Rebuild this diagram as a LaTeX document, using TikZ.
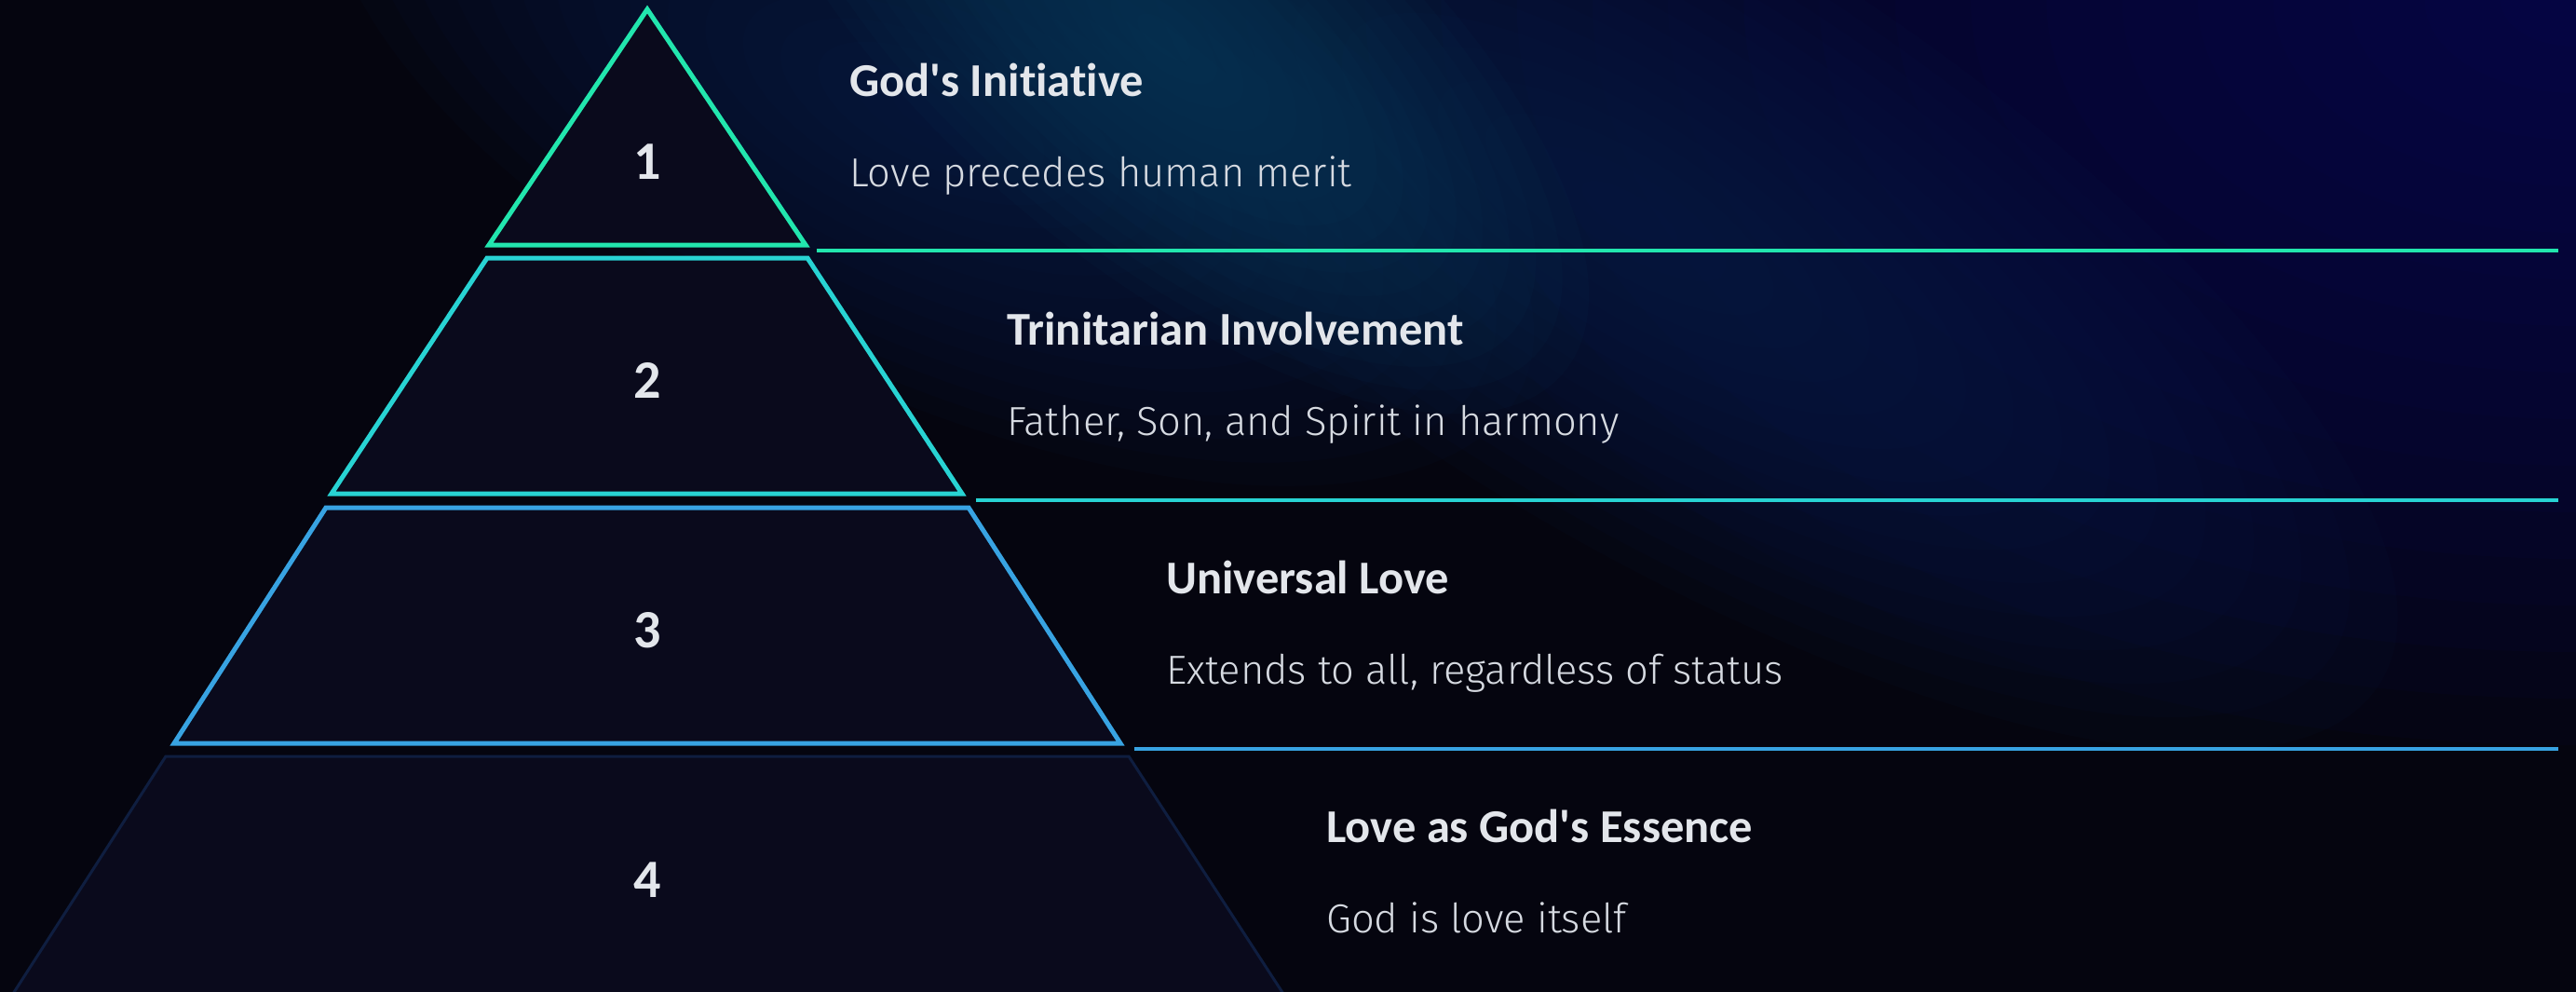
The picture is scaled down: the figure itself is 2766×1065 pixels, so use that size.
\documentclass[tikz,border=0pt]{standalone}
\usepackage{fontspec}
\usepackage{tikz}
\newfontfamily\titlefont{Carlito}[Ligatures=NoCommon]
\newfontfamily\descfont{Fira Sans Light}
\definecolor{bgdark}{HTML}{05050F}
\definecolor{glowteal}{HTML}{0C4262}
\definecolor{glownavy}{HTML}{0A2250}
\definecolor{glowindigo}{HTML}{0A0A60}
\definecolor{layerfill}{HTML}{0A0A1C}
\definecolor{mint}{HTML}{22E6AE}
\definecolor{aqua}{HTML}{28D3D3}
\definecolor{sky}{HTML}{38A3E2}
\definecolor{dimblue}{HTML}{0F1E40}
\definecolor{txtmain}{HTML}{E3E6EB}
\definecolor{txtdesc}{HTML}{D6DAE1}

\begin{document}
\begin{tikzpicture}[x=1pt,y=-1pt,
    layer/.style={fill=layerfill,line width=5pt,line join=miter},
    sep/.style={line width=4pt},
    glow/.style={opacity=0.07},
    num/.style={text=txtmain,font=\titlefont\bfseries\fontsize{58}{60}\selectfont,inner sep=0pt,anchor=base},
    title/.style={text=txtmain,font=\titlefont\bfseries\fontsize{50.5}{54}\selectfont,inner sep=0pt,anchor=base west},
    desc/.style={text=txtdesc,font=\descfont\fontsize{43.5}{48}\selectfont,inner sep=0pt,anchor=base west}]
    \useasboundingbox (0,0) rectangle (2766,1065);
    \clip (0,0) rectangle (2766,1065);

    % background and glows
    \fill[bgdark] (0,0) rectangle (2766,1065);
    \foreach \k in {1,...,16}
        \fill[glowindigo,glow] (2766,0) ellipse [x radius={1300/16*\k}, y radius={800/16*\k}];
    \foreach \k in {1,...,16}
        \fill[glownavy,glow,rotate around={-32:(1750,230)}] (1750,230) ellipse [x radius={950/16*\k}, y radius={330/16*\k}];
    \foreach \k in {1,...,16}
        \fill[glownavy,glow,rotate around={-25:(1000,120)}] (1000,120) ellipse [x radius={700/16*\k}, y radius={300/16*\k}];
    \foreach \k in {1,...,16}
        \fill[glowteal,glow,rotate around={-40:(1250,40)}] (1250,40) ellipse [x radius={560/16*\k}, y radius={240/16*\k}];

    % pyramid layers
    \draw[layer,draw=dimblue,line width=3pt] (178,812) -- (1212,812) -- (1380,1070) -- (12,1070) -- cycle;
    \draw[layer,draw=sky] (350,545) -- (1040,545) -- (1203,798) -- (187,798) -- cycle;
    \draw[layer,draw=aqua] (523,277) -- (867,277) -- (1033,530) -- (356,530) -- cycle;
    \draw[layer,draw=mint] (695,10) -- (865,263) -- (525,263) -- cycle;

    % separator lines
    \coordinate (s1a) at (877,269);
    \coordinate (s1b) at (2747,269);
    \coordinate (s2a) at (1048,537);
    \coordinate (s2b) at (2747,537);
    \coordinate (s3a) at (1218,804);
    \coordinate (s3b) at (2747,804);
    \draw[sep,mint] (s1a) -- (s1b);
    \draw[sep,aqua] (s2a) -- (s2b);
    \draw[sep,sky] (s3a) -- (s3b);

    % numbers
    \node[num] (n1) at (695,192) {1};
    \node[num] (n2) at (695,427) {2};
    \node[num] (n3) at (695,695) {3};
    \node[num] (n4) at (695,963) {4};

    % titles and descriptions
    \node[title] (t1) at (912,103) {God's Initiative};
    \node[desc] (d1) at (912,200) {Love precedes human merit};
    \node[title] (t2) at (1081,370) {Trinitarian Involvement};
    \node[desc] (d2) at (1081,467) {Father, Son, and Spirit in harmony};
    \node[title] (t3) at (1252,637) {Universal Love};
    \node[desc] (d3) at (1252,734) {Extends to all, regardless of status};
    \node[title] (t4) at (1424,904) {Love as God's Essence};
    \node[desc] (d4) at (1424,1001) {God is love itself};
\end{tikzpicture}
\end{document}
